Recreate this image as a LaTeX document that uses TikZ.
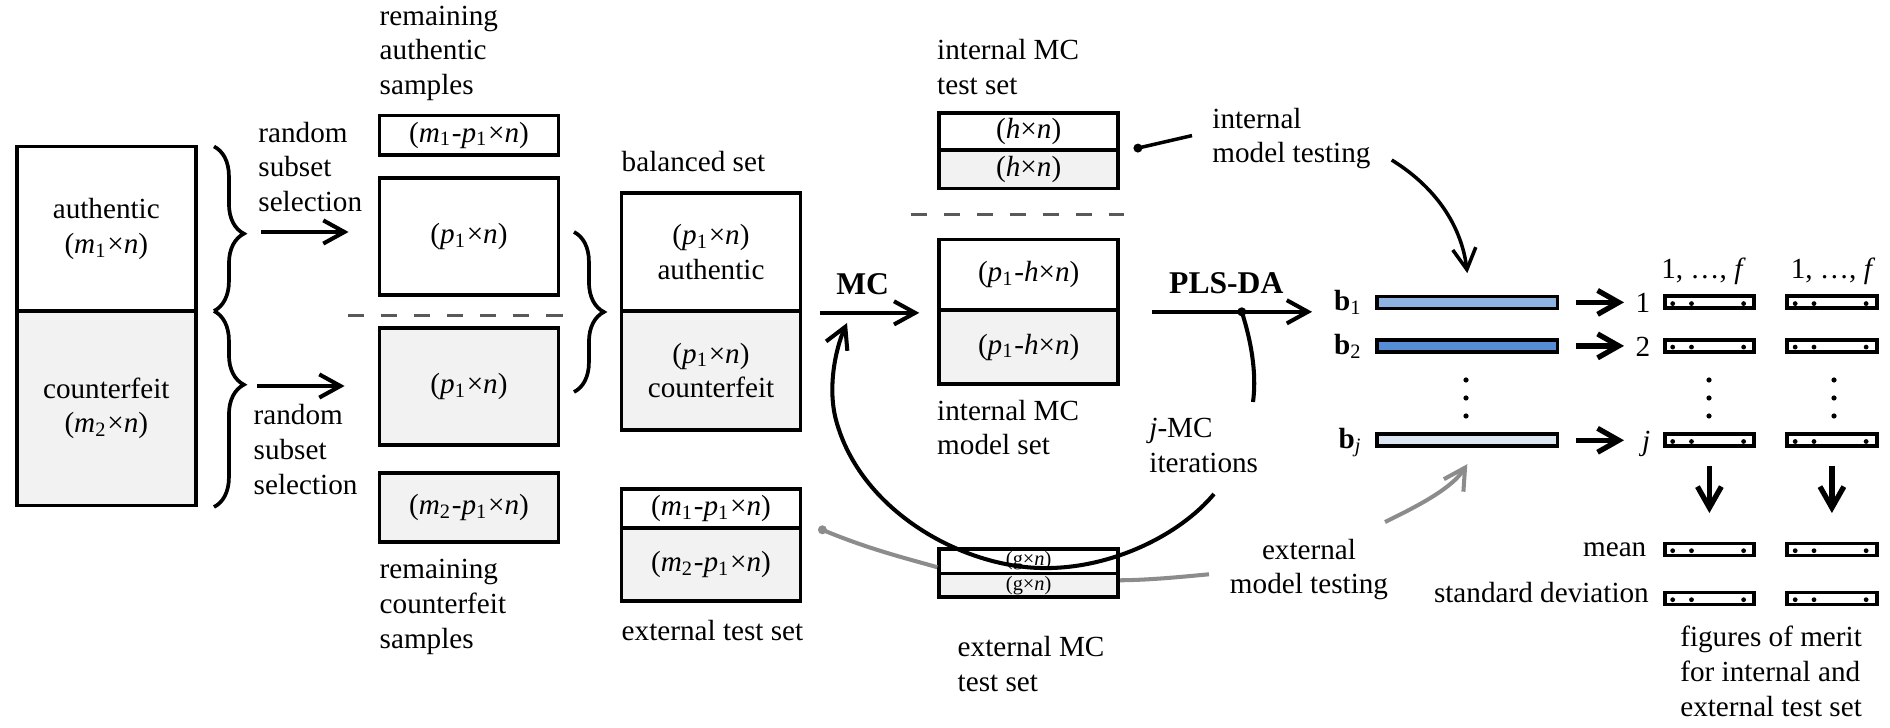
\documentclass[tikz,border=0pt]{standalone}
\usepackage{fontspec}
\setmainfont{Liberation Serif}
\usetikzlibrary{arrows.meta, positioning, calc, decorations.pathreplacing, backgrounds}
\definecolor{cellgray}{HTML}{F2F2F2}
\definecolor{dashgray}{HTML}{595959}
\definecolor{wiregray}{HTML}{8C8C8C}
\definecolor{loadA}{HTML}{8DB3E2}
\definecolor{loadB}{HTML}{558ED5}
\definecolor{loadJ}{HTML}{DCE6F2}
\newcommand{\sym}[2]{\textit{#1}\textsubscript{#2}}
\newcommand{\byn}{×\textit{n}}
\tikzset{
  cell/.style     = {draw, line width=1.05pt, inner sep=0pt, align=center, minimum width=1.79cm},
  cellg/.style    = {cell, fill=cellgray},
  bar/.style      = {draw, line width=1.05pt, inner sep=0pt, minimum width=1.80cm, minimum height=0.12cm},
  fom/.style      = {draw, line width=1.1pt, inner sep=0pt, minimum height=0.12cm},
  lab/.style      = {align=left, inner sep=0pt, anchor=base west},
  rlab/.style     = {inner sep=0pt, anchor=base east},
  head/.style     = {inner sep=0pt, font=\fontsize{9}{10}\selectfont\bfseries},
  flow/.style     = {-{Straight Barb[length=6pt, width=6.6pt]}, line width=1.15pt},
  fatflow/.style  = {-{Straight Barb[length=6pt, width=6.8pt]}, line width=1.5pt},
  wire/.style     = {draw=wiregray, line width=1.15pt},
  greyflow/.style = {flow, draw=wiregray},
  cut/.style      = {draw=dashgray, line width=0.95pt, dash pattern=on 4.6pt off 4.8pt},
  brc/.style      = {decorate, decoration={brace, amplitude=8.5pt, aspect=#1}, line width=1.05pt},
  brc/.default    = 0.5
}

\begin{document}
\begin{tikzpicture}[x=0.01cm, y=-0.01cm, font=\fontsize{8.3}{9.9}\selectfont]
\useasboundingbox (0,0) rectangle (1890,728);
% multi-line labels sit on the baseline of their last line
\node[cell,  minimum height=1.645cm] (auth) at (106.3,228.8) {authentic\\(\sym{m}{1}\byn)};
\node[cellg, minimum height=1.946cm] (cntf) at (106.3,408.3) {counterfeit\\(\sym{m}{2}\byn)};
\draw[brc=0.53]  (214,146.5) -- (214,311);
\draw[brc=0.376] (214,311) -- (214,507);
\coordinate (tipA) at (244,232);
\coordinate (tipC) at (244,386);
\node[lab] at (257.7,211.7) {random\\subset\\selection};
\node[lab] at (253,494.1) {random\\subset\\selection};

\node[cell,  minimum height=0.392cm] (remA) at (469,135.1) {(\sym{m}{1}-\sym{p}{1}\byn)};
\node[cell,  minimum height=1.17cm]  (selA) at (469,236.7) {(\sym{p}{1}\byn)};
\node[cellg, minimum height=1.174cm] (selC) at (469,386.5) {(\sym{p}{1}\byn)};
\node[cellg, minimum height=0.694cm] (remC) at (469,507.5) {(\sym{m}{2}-\sym{p}{1}\byn)};
\draw[cut] (348,315.7) -- (562.7,315.7);
\node[lab] at (379,94.8)  {remaining\\authentic\\samples};
\node[lab] at (379,648.2) {remaining\\counterfeit\\samples};
\draw[brc] (574,232) -- (574,392);

\node[cell,  minimum height=1.18cm]  (balA) at (711,252)   {(\sym{p}{1}\byn)\\authentic};
\node[cellg, minimum height=1.19cm]  (balC) at (711,370.5) {(\sym{p}{1}\byn)\\counterfeit};
\node[lab] at (621,171.4) {balanced set};
\node[cell,  minimum height=0.387cm] (extA) at (711,508.6) {(\sym{m}{1}-\sym{p}{1}\byn)};
\node[cellg, minimum height=0.728cm] (extC) at (711,564.4) {(\sym{m}{2}-\sym{p}{1}\byn)};
\node[lab] at (621,640.3) {external test set};

\node[cell,  minimum height=0.368cm] (itA) at (1028.7,131.6) {(\textit{h}\byn)};
\node[cellg, minimum height=0.385cm] (itC) at (1028.7,169.2) {(\textit{h}\byn)};
\node[lab] at (936.5,94.8) {internal MC\\test set};
\draw[cut] (910.5,214.5) -- (1124,214.5);
\node[cell,  minimum height=0.705cm] (imA) at (1028.7,274.7) {(\sym{p}{1}-\textit{h}\byn)};
\node[cellg, minimum height=0.742cm] (imC) at (1028.7,347.1) {(\sym{p}{1}-\textit{h}\byn)};
\node[lab] at (936.5,455) {internal MC\\model set};
\node[cell,  minimum height=0.246cm, font=\fontsize{5.8}{6}\selectfont] (emA) at (1028.7,561.1) {(g\byn)};
\node[cellg, minimum height=0.238cm, font=\fontsize{5.8}{6}\selectfont] (emC) at (1028.7,585.3) {(g\byn)};
\node[lab] at (957,691.4) {external MC\\test set};
\node[lab] (jmc) at (1148.7,472.2) {\textit{j}-MC\\iterations};
\node[lab] (imt) at (1211.7,163) {internal\\model testing};
\node[align=center, inner sep=0pt, anchor=base] (emt) at (1309,594) {external\\model testing};

\foreach \rw/\yy/\cc in {1/302.4/loadA, 2/345.9/loadB, j/440.3/loadJ}
  \node[bar, fill=\cc] (bar\rw) at (1467.3,\yy) {};
\node[rlab] (lb1) at (1363,310.9) {\textbf{b}\textsubscript{1}};
\node[rlab] (lb2) at (1363,354.4) {\textbf{b}\textsubscript{2}};
\node[rlab] (lbj) at (1363,448.8) {\textbf{b}\textsubscript{\textit{j}}};
\foreach \rw/\yy in {1/302.4, 2/345.9, j/440.3, m/549.5, s/598.5}
  \foreach \col/\xx/\ww in {A/1709.4/0.884cm, B/1831.9/0.893cm} {
    \node[fom, minimum width=\ww] (f\col\rw) at (\xx,\yy) {};
    \foreach \dx in {-0.367,-0.179,0.342}
      \fill ([xshift=\dx cm, yshift=-0.012cm]f\col\rw.center) circle (0.024cm);
  }
\node[rlab] (n1) at (1651,312.9) {1};
\node[rlab] (n2) at (1651,356.4) {2};
\node[rlab] (nj) at (1651,450.8) {\textit{j}};
\node[inner sep=0pt, anchor=base] at (1703.5,278.5) {1, …, \textit{f}};
\node[inner sep=0pt, anchor=base] at (1833,278.5)   {1, …, \textit{f}};
\foreach \x in {1466, 1709, 1834}
  \foreach \yy in {380, 398, 416}
    \fill (\x,\yy) circle (0.026cm);
\node[rlab] at (1647,557)     {mean};
\node[rlab] at (1649.5,602.6) {standard deviation};
\node[lab] at (1679.6,716.6) {figures of merit\\for internal and\\external test set};

\draw[flow, shorten <=0.17cm, shorten >=0.29cm] (tipA) -- (tipA -| selA.west);
\draw[flow, shorten <=0.13cm, shorten >=0.33cm] (tipC) -- (tipC -| selC.west);
\draw[flow, shorten <=0.175cm, shorten >=0.18cm] (balA.south east)
  -- node[pos=0.447, above=0.16cm, head] {MC} (balA.south east -| imA.west);
\draw[flow, shorten <=0.32cm, shorten >=0.633cm] (imA.south east)
  -- coordinate[pos=0.4766] (loopdot) node[pos=0.416, above=0.16cm, head] {PLS-DA}
  (imA.south east -| bar1.west);
\fill (loopdot) circle (0.045cm);
\coordinate (loopend) at (847,323);
\begin{pgfonlayer}{background}
  \draw[line width=1.15pt] (loopdot) .. controls (1254,350) and (1256,380) .. (1253,402);
  \draw[flow] (1214,494) .. controls (1180,535) and (1110,570) .. (1040,568)
    .. controls (960,566) and (860,510) .. (836,420)
    .. controls (827.6,388.5) and (835,350) .. (loopend);
\end{pgfonlayer}

\coordinate (intdot) at ([xshift=0.178cm]itC.north east);
\fill (intdot) circle (0.045cm);
\draw[line width=1pt] (intdot) -- (1192,135.6);
\coordinate (imtout) at (1391.7,160);
\draw[flow, line width=1pt] (imtout) .. controls (1440,190) and (1462,230) .. ([yshift=0.214cm]bar1.north);

\coordinate (extdot) at ([xshift=0.2cm]extA.south east);
\fill[wiregray] (extdot) circle (0.045cm);
\draw[wire] (extdot) .. controls (868,549) and (905,558) .. ([yshift=0.08cm]emA.south west);
\draw[wire] ([yshift=0.05cm]emC.east) .. controls (1150,580) and (1180,577) .. (1209,574.3);
\coordinate (emtout) at (1385,522);
\draw[greyflow] (emtout) .. controls (1420,505) and (1452,488) .. ([yshift=-0.16cm]barj.south);

\foreach \rw in {1,2,j}
  \draw[fatflow, shorten <=0.167cm, shorten >=0.392cm] (bar\rw.east) -- (bar\rw.east -| fA\rw.west);
\foreach \col in {A,B}
  \draw[fatflow, shorten <=0.177cm, shorten >=0.285cm] (f\col j.south) -- (f\col m.north);
\end{tikzpicture}
\end{document}
